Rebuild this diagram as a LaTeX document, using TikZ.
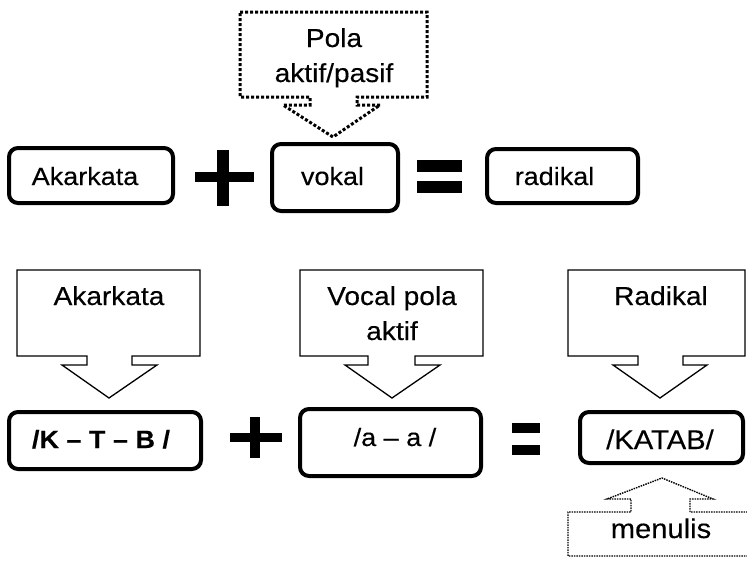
\documentclass[tikz,border=0pt]{standalone}
\usepackage{fontspec}
\setmainfont{Liberation Sans}[FakeStretch=1.08,FakeBold=0.3]
\newcommand\fTop{\fontsize{25}{30}\selectfont}
\newcommand\fCall{\fontsize{26}{31}\selectfont}
\newcommand\fBot{\fontsize{25}{30}\selectfont}
\newcommand\fMen{\fontsize{27}{32}\selectfont}
\begin{document}
\begin{tikzpicture}[x=1pt,y=-1pt,
  rbox/.style={draw, line width=4pt, rounded corners=9pt, inner sep=0pt},
  callsolid/.style={draw, line width=1.3pt, line join=miter},
  calldotA/.style={draw, line width=3pt, dash pattern=on 3pt off 2pt},
  calldotB/.style={draw, line width=1.4pt, dash pattern=on 1.5pt off 1pt},
  lbl/.style={anchor=base, inner sep=0pt}]
\useasboundingbox (0,0) rectangle (747,565);
\clip (0,0) rectangle (747,565);

% ---------- top row ----------
\node[rbox, minimum width=164pt, minimum height=55pt] (b1) at (91,175.5) {};
\node[rbox, minimum width=126pt, minimum height=67pt] (b2) at (335,177.5) {};
\node[rbox, minimum width=151pt, minimum height=54pt] (b3) at (562.5,176) {};
\node[lbl, font=\fTop] (t1) at (85,185) {Akarkata};
\node[lbl, font=\fTop] (t2) at (332.5,185) {vokal};
\node[lbl, font=\fTop] (t3) at (554.5,185) {radikal};
% plus / equals
\fill (195,172) rectangle (254,182);
\fill (217,150) rectangle (229,206);
\fill (417,160) rectangle (462,172);
\fill (417,181) rectangle (462,193);

% top dotted callout
\draw[calldotA] (240,12) -- (427,12) -- (427,97) -- (357,97) -- (357,105) -- (380,105)
  -- (333,137) -- (283,105) -- (310,105) -- (310,97) -- (240,97) -- cycle;
\node[lbl, font=\fCall] (p1) at (334,47) {Pola};
\node[lbl, font=\fCall] (p2) at (334,82) {aktif/pasif};

% ---------- bottom callouts ----------
\draw[callsolid] (17,270) -- (200,270) -- (200,356) -- (132,356) -- (132,365) -- (157,365)
  -- (109,398) -- (62,365) -- (87,365) -- (87,356) -- (17,356) -- cycle;
\node[lbl, font=\fCall] (c1) at (109,305) {Akarkata};

\draw[callsolid] (300,270) -- (483,270) -- (483,356) -- (415,356) -- (415,365) -- (440,365)
  -- (392,398) -- (345,365) -- (368,365) -- (368,356) -- (300,356) -- cycle;
\node[lbl, font=\fCall] (c2a) at (392,305) {Vocal pola};
\node[lbl, font=\fCall] (c2b) at (392,340) {aktif};

\draw[callsolid] (568,270) -- (745,270) -- (745,356) -- (683,356) -- (683,365) -- (707,365)
  -- (660,398) -- (613,365) -- (638,365) -- (638,356) -- (568,356) -- cycle;
\node[lbl, font=\fCall] (c3) at (661,305) {Radikal};

% ---------- bottom row ----------
\node[rbox, minimum width=192pt, minimum height=57pt] (d1) at (105,440.5) {};
\node[rbox, minimum width=181pt, minimum height=67pt] (d2) at (390.5,442.5) {};
\node[rbox, minimum width=163pt, minimum height=51pt] (d3) at (661.5,437.5) {};
\node[lbl, font=\fBot\bfseries] (e1) at (101,448) {/K – T – B /};
\node[lbl, font=\fBot] (e2) at (395,446) {/a – a /};
\node[lbl, font=\fontsize{27}{32}\selectfont] (e3) at (660,449) {/KATAB/};
\fill (230,433) rectangle (282,442);
\fill (250,417) rectangle (260,458);
\fill (512,423) rectangle (540,433);
\fill (512,445) rectangle (540,455);

% menulis dotted callout
\draw[calldotB] (750,512) -- (690,512) -- (690,499) -- (713,499) -- (662,478) -- (607,499)
  -- (631,499) -- (631,512) -- (568,512) -- (568,556) -- (750,556);
\node[lbl, font=\fMen] (m1) at (661,538) {menulis};
\end{tikzpicture}
\end{document}
